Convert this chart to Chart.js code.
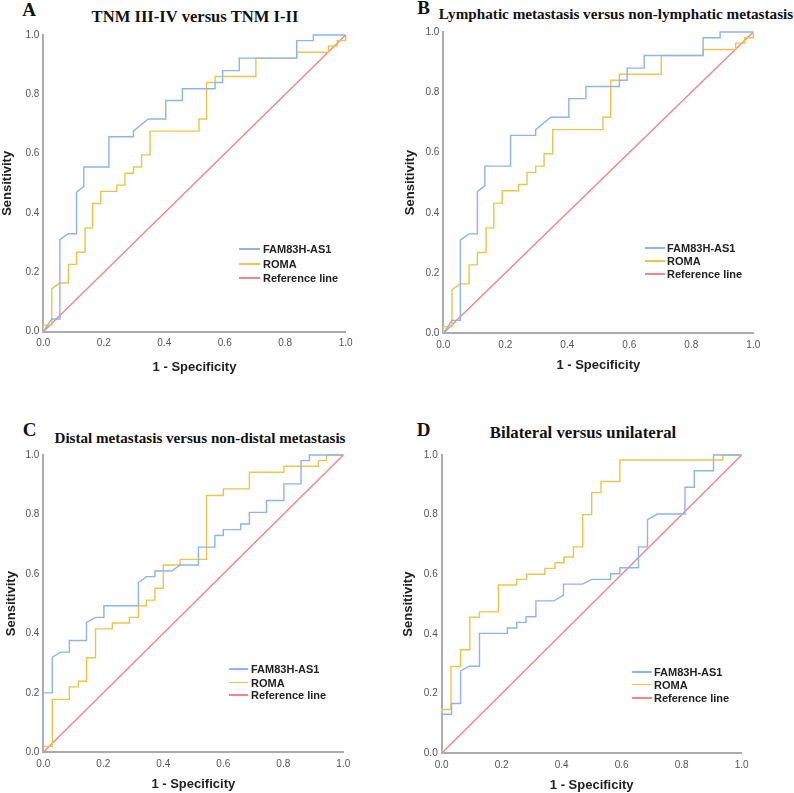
<!DOCTYPE html>
<html>
<head>
<meta charset="utf-8">
<script src="https://cdn.jsdelivr.net/npm/chart.js@4/dist/chart.umd.min.js"></script>
<style>
  html, body { margin: 0; padding: 0; background: #ffffff; }
  #wrap { position: relative; width: 794px; height: 793px; overflow: hidden; background: #fff; }
  .cv { position: absolute; }
  .ttl { position: absolute; font-family: "Liberation Serif", "Times New Roman", serif; font-weight: bold; color: #111; white-space: nowrap; transform: translate(-50%, -50%); }
  .ltr { position: absolute; font-family: "Liberation Serif", "Times New Roman", serif; font-weight: bold; color: #111; font-size: 19px; transform: translate(-50%, -50%); }
  .leg { position: absolute; font-family: "Liberation Sans", Arial, sans-serif; font-weight: bold; font-size: 11px; color: #222; white-space: nowrap; }
  .legrow { position: absolute; left: 0; height: 14px; line-height: 14px; transform: translateY(-50%); }
  .legline { position: absolute; top: 6px; height: 1.5px; }
</style>
</head>
<body>
<div id="wrap"></div>
<script>
// ---------- DATA ----------
const seriesNames = ["FAM83H-AS1", "ROMA", "Reference line"];
const panelLetters = ["A", "B", "C", "D"];
const panelTitles = [
  "TNM III-IV versus TNM I-II",
  "Lymphatic metastasis versus non-lymphatic metastasis",
  "Distal metastasis versus non-distal metastasis",
  "Bilateral versus unilateral"
];
const tickValues = [0, 0.2, 0.4, 0.6, 0.8, 1.0];
const refX = [0, 1];
const refY = [0, 1];

// Panel A
const aFamX = [0, 0.028, 0.055, 0.055, 0.083, 0.11, 0.11, 0.134, 0.134, 0.217, 0.217, 0.298, 0.298, 0.347, 0.405, 0.405, 0.46, 0.46, 0.568, 0.568, 0.593, 0.593, 0.648, 0.648, 0.838, 0.838, 0.893, 0.893, 1.0];
const aFamY = [0, 0.043, 0.043, 0.31, 0.33, 0.33, 0.47, 0.49, 0.555, 0.555, 0.657, 0.657, 0.676, 0.717, 0.717, 0.779, 0.779, 0.819, 0.819, 0.84, 0.84, 0.88, 0.88, 0.922, 0.922, 0.981, 0.981, 1.0, 1.0];
const aRomaX = [0, 0, 0.028, 0.028, 0.055, 0.083, 0.083, 0.11, 0.11, 0.138, 0.138, 0.163, 0.163, 0.19, 0.19, 0.243, 0.243, 0.27, 0.27, 0.298, 0.298, 0.325, 0.325, 0.353, 0.353, 0.515, 0.515, 0.54, 0.54, 0.568, 0.568, 0.703, 0.703, 0.838, 0.838, 0.943, 0.943, 0.972, 0.972, 1.0, 1.0];
const aRomaY = [0, 0.022, 0.022, 0.145, 0.164, 0.164, 0.227, 0.227, 0.268, 0.268, 0.35, 0.35, 0.432, 0.432, 0.473, 0.473, 0.494, 0.494, 0.534, 0.534, 0.555, 0.555, 0.596, 0.596, 0.676, 0.676, 0.717, 0.717, 0.84, 0.84, 0.86, 0.86, 0.922, 0.922, 0.942, 0.942, 0.963, 0.963, 0.981, 0.981, 1.0];

// Panel B (same curves as A in the figure)
const bFamX = [0, 0.028, 0.055, 0.055, 0.083, 0.11, 0.11, 0.134, 0.134, 0.217, 0.217, 0.298, 0.298, 0.347, 0.405, 0.405, 0.46, 0.46, 0.568, 0.568, 0.593, 0.593, 0.648, 0.648, 0.838, 0.838, 0.893, 0.893, 1.0];
const bFamY = [0, 0.043, 0.043, 0.31, 0.33, 0.33, 0.47, 0.49, 0.555, 0.555, 0.657, 0.657, 0.676, 0.717, 0.717, 0.779, 0.779, 0.819, 0.819, 0.84, 0.84, 0.88, 0.88, 0.922, 0.922, 0.981, 0.981, 1.0, 1.0];
const bRomaX = [0, 0, 0.028, 0.028, 0.055, 0.083, 0.083, 0.11, 0.11, 0.138, 0.138, 0.163, 0.163, 0.19, 0.19, 0.243, 0.243, 0.27, 0.27, 0.298, 0.298, 0.325, 0.325, 0.353, 0.353, 0.515, 0.515, 0.54, 0.54, 0.568, 0.568, 0.703, 0.703, 0.838, 0.838, 0.943, 0.943, 0.972, 0.972, 1.0, 1.0];
const bRomaY = [0, 0.022, 0.022, 0.145, 0.164, 0.164, 0.227, 0.227, 0.268, 0.268, 0.35, 0.35, 0.432, 0.432, 0.473, 0.473, 0.494, 0.494, 0.534, 0.534, 0.555, 0.555, 0.596, 0.596, 0.676, 0.676, 0.717, 0.717, 0.84, 0.84, 0.86, 0.86, 0.922, 0.922, 0.942, 0.942, 0.963, 0.963, 0.981, 0.981, 1.0];

// Panel C
const cFamX = [0, 0, 0.03, 0.03, 0.058, 0.087, 0.087, 0.144, 0.144, 0.174, 0.202, 0.202, 0.317, 0.317, 0.344, 0.372, 0.372, 0.428, 0.456, 0.517, 0.517, 0.572, 0.572, 0.6, 0.6, 0.658, 0.658, 0.687, 0.687, 0.744, 0.744, 0.802, 0.802, 0.859, 0.859, 0.887, 0.887, 1.0];
const cFamY = [0, 0.2, 0.2, 0.32, 0.337, 0.337, 0.376, 0.376, 0.437, 0.454, 0.454, 0.493, 0.493, 0.571, 0.591, 0.591, 0.61, 0.61, 0.63, 0.63, 0.69, 0.69, 0.729, 0.729, 0.749, 0.749, 0.768, 0.768, 0.807, 0.807, 0.847, 0.847, 0.903, 0.903, 0.981, 0.981, 1.0, 1.0];
const cRomaX = [0, 0, 0.03, 0.03, 0.087, 0.087, 0.117, 0.117, 0.144, 0.144, 0.174, 0.174, 0.23, 0.23, 0.287, 0.287, 0.317, 0.317, 0.344, 0.344, 0.372, 0.372, 0.4, 0.4, 0.456, 0.456, 0.544, 0.544, 0.6, 0.6, 0.687, 0.687, 0.802, 0.802, 0.917, 0.917, 0.944, 0.944, 1.0];
const cRomaY = [0, 0.02, 0.02, 0.178, 0.178, 0.22, 0.22, 0.239, 0.239, 0.318, 0.318, 0.415, 0.415, 0.435, 0.435, 0.454, 0.454, 0.493, 0.493, 0.512, 0.512, 0.552, 0.552, 0.63, 0.63, 0.649, 0.649, 0.864, 0.864, 0.886, 0.886, 0.942, 0.942, 0.962, 0.962, 0.981, 0.981, 1.0, 1.0];

// Panel D
const dFamX = [0, 0, 0.033, 0.033, 0.063, 0.063, 0.092, 0.126, 0.126, 0.219, 0.219, 0.25, 0.25, 0.281, 0.281, 0.314, 0.314, 0.374, 0.406, 0.406, 0.47, 0.5, 0.563, 0.563, 0.594, 0.594, 0.656, 0.656, 0.686, 0.686, 0.719, 0.811, 0.811, 0.842, 0.842, 0.906, 0.906, 1.0];
const dFamY = [0, 0.131, 0.131, 0.167, 0.167, 0.276, 0.292, 0.292, 0.402, 0.402, 0.42, 0.42, 0.439, 0.439, 0.458, 0.458, 0.511, 0.511, 0.53, 0.567, 0.567, 0.583, 0.583, 0.602, 0.602, 0.622, 0.622, 0.692, 0.692, 0.783, 0.802, 0.802, 0.892, 0.892, 0.947, 0.947, 1.0, 1.0];
const dRomaX = [0, 0, 0.031, 0.031, 0.063, 0.063, 0.094, 0.094, 0.126, 0.126, 0.189, 0.189, 0.25, 0.25, 0.283, 0.283, 0.344, 0.344, 0.378, 0.378, 0.408, 0.408, 0.439, 0.439, 0.47, 0.47, 0.5, 0.5, 0.531, 0.531, 0.594, 0.594, 0.937, 0.937, 1.0];
const dRomaY = [0, 0.147, 0.147, 0.291, 0.291, 0.347, 0.347, 0.456, 0.456, 0.474, 0.474, 0.564, 0.564, 0.583, 0.583, 0.6, 0.6, 0.62, 0.62, 0.639, 0.639, 0.658, 0.658, 0.692, 0.692, 0.8, 0.8, 0.874, 0.874, 0.911, 0.911, 0.983, 0.983, 1.0, 1.0];

// ---------- STYLE / LAYOUT ----------
const COLORS = ["#8db4ee", "#ebc54b", "#f38585"];
const panels = [
  { fx: aFamX, fy: aFamY, rx: aRomaX, ry: aRomaY,
    canvas: { left: 0, top: 25, w: 360, h: 360 }, yw: 43.3, xh: 53.3, pt: 8.3, pr: 14.3, ytp: 0, xtp: 10,
    title: { x: 195, y: 17, size: 16.6 }, letter: { x: 29, y: 10 },
    legend: { x: 239, ys: [249.3, 264.3, 278.3], lineW: 21, gap: 3 } },
  { fx: bFamX, fy: bFamY, rx: bRomaX, ry: bRomaY,
    canvas: { left: 400, top: 22, w: 394, h: 363 }, yw: 43.3, xh: 51.7, pt: 8.7, pr: 40.7, ytp: 2.8, xtp: 12,
    title: { x: 616, y: 14, size: 15.2 }, letter: { x: 423.5, y: 8 },
    legend: { x: 645, ys: [248, 261, 274], lineW: 20, gap: 2 } },
  { fx: cFamX, fy: cFamY, rx: cRomaX, ry: cRomaY,
    canvas: { left: 0, top: 445, w: 360, h: 348 }, yw: 43.3, xh: 40.7, pt: 8.3, pr: 16.7, ytp: 3.5, xtp: 1,
    title: { x: 200, y: 437.7, size: 15.1 }, letter: { x: 29.5, y: 430 },
    legend: { x: 229, ys: [669.3, 682.7, 695.3], lineW: 19, gap: 3 } },
  { fx: dFamX, fy: dFamY, rx: dRomaX, ry: dRomaY,
    canvas: { left: 400, top: 445, w: 394, h: 348 }, yw: 41.7, xh: 39.7, pt: 8.3, pr: 52.3, ytp: 0.8, xtp: 0,
    title: { x: 583, y: 433, size: 16.8 }, letter: { x: 423.5, y: 430 },
    legend: { x: 632, ys: [672.3, 684.7, 698], lineW: 20, gap: 2 } }
];

function pts(xs, ys) { return xs.map((x, i) => ({ x: x, y: ys[i] })); }

const wrap = document.getElementById('wrap');

panels.forEach((p, idx) => {
  const t = document.createElement('div');
  t.className = 'ttl';
  t.style.left = p.title.x + 'px';
  t.style.top = p.title.y + 'px';
  t.style.fontSize = p.title.size + 'px';
  t.textContent = panelTitles[idx];
  wrap.appendChild(t);
  const l = document.createElement('div');
  l.className = 'ltr';
  l.style.left = p.letter.x + 'px';
  l.style.top = p.letter.y + 'px';
  l.textContent = panelLetters[idx];
  wrap.appendChild(l);

  const c = document.createElement('canvas');
  c.className = 'cv';
  c.style.left = p.canvas.left + 'px';
  c.style.top = p.canvas.top + 'px';
  c.style.width = p.canvas.w + 'px';
  c.style.height = p.canvas.h + 'px';
  c.width = p.canvas.w; c.height = p.canvas.h;
  wrap.appendChild(c);

  const lineDs = (label, data, color, order) => ({
    label, data, borderColor: color, backgroundColor: color, borderWidth: 1.4,
    pointRadius: 0, pointHoverRadius: 0, tension: 0, fill: false, clip: false, order
  });

  new Chart(c.getContext('2d'), {
    type: 'line',
    data: {
      datasets: [
        lineDs(seriesNames[2], pts(refX, refY), COLORS[2], 3),
        lineDs(seriesNames[1], pts(p.rx, p.ry), COLORS[1], 2),
        lineDs(seriesNames[0], pts(p.fx, p.fy), COLORS[0], 1)
      ]
    },
    options: {
      responsive: false,
      animation: false,
      devicePixelRatio: 1,
      layout: { padding: { top: p.pt, right: p.pr, left: 0, bottom: 0 } },
      plugins: { legend: { display: false }, tooltip: { enabled: false }, title: { display: false } },
      scales: {
        x: {
          type: 'linear', min: 0, max: 1,
          afterFit: (s) => { s.height = p.xh; },
          afterBuildTicks: (s) => { s.ticks = tickValues.map(v => ({ value: v })); },
          grid: { display: false, drawTicks: false },
          border: { display: true, color: '#ababab', width: 2 },
          ticks: { padding: 6, color: '#555', font: { family: 'Liberation Sans, Arial, sans-serif', size: 10 }, maxRotation: 0, callback: (v) => Number(v).toFixed(1) },
          title: { display: true, text: '1 - Specificity', color: '#222', padding: { top: 0, bottom: p.xtp }, font: { family: 'Liberation Sans, Arial, sans-serif', size: 13, weight: 'bold' } }
        },
        y: {
          type: 'linear', min: 0, max: 1,
          afterFit: (s) => { s.width = p.yw; },
          afterBuildTicks: (s) => { s.ticks = tickValues.map(v => ({ value: v })); },
          grid: { display: false, drawTicks: false },
          border: { display: true, color: '#ababab', width: 2 },
          ticks: { padding: 4, color: '#555', font: { family: 'Liberation Sans, Arial, sans-serif', size: 10 }, callback: (v) => Number(v).toFixed(1) },
          title: { display: true, text: 'Sensitivity', color: '#222', padding: { top: p.ytp, bottom: 0 }, font: { family: 'Liberation Sans, Arial, sans-serif', size: 13, weight: 'bold' } }
        }
      }
    }
  });

  const lg = document.createElement('div');
  lg.className = 'leg';
  lg.style.left = p.legend.x + 'px';
  lg.style.top = '0px';
  seriesNames.forEach((name, i) => {
    const row = document.createElement('div');
    row.className = 'legrow';
    row.style.top = p.legend.ys[i] + 'px';
    const ln = document.createElement('span');
    ln.className = 'legline';
    ln.style.left = '0px';
    ln.style.width = p.legend.lineW + 'px';
    ln.style.background = COLORS[i];
    const tx = document.createElement('span');
    tx.style.position = 'absolute';
    tx.style.left = (p.legend.lineW + p.legend.gap) + 'px';
    tx.textContent = name;
    row.appendChild(ln); row.appendChild(tx);
    lg.appendChild(row);
  });
  wrap.appendChild(lg);
});
</script>
</body>
</html>
